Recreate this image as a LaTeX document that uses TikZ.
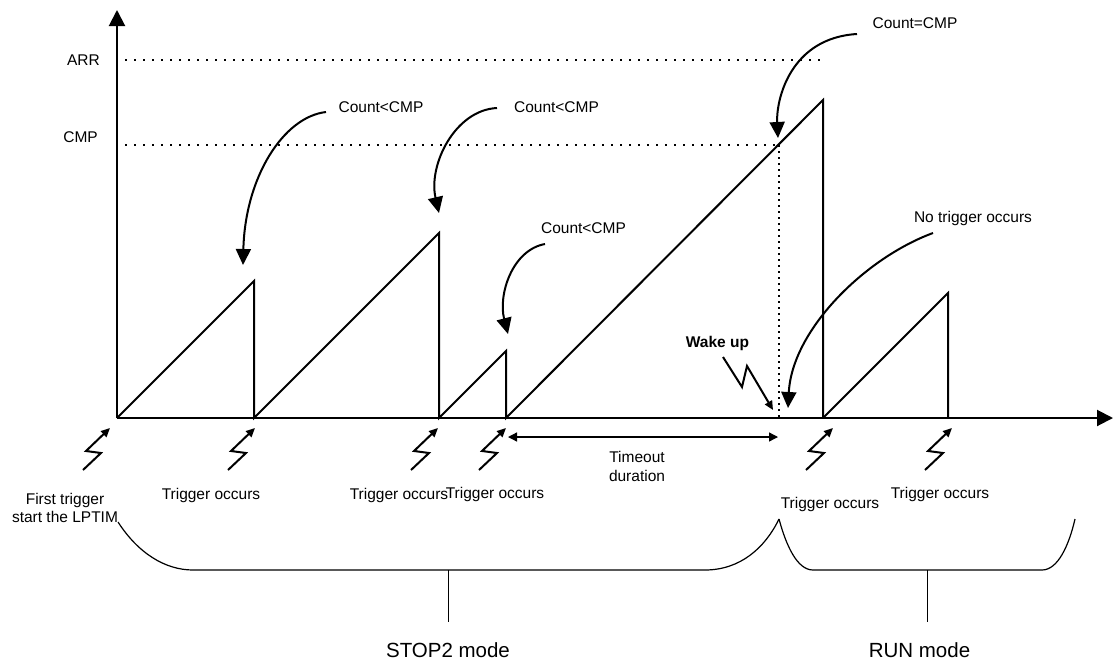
\documentclass[tikz,border=0pt]{standalone}
\usepackage{fontspec}
\setmainfont{Liberation Sans}
\usetikzlibrary{arrows.meta}
\begin{document}
\begin{tikzpicture}[x=1pt,y=-1pt,
  lbl/.style={inner sep=0pt, font=\fontsize{15.5}{18}\selectfont, anchor=base},
  bigl/.style={inner sep=0pt, font=\fontsize{20.5}{24}\selectfont, anchor=base},
  axisline/.style={line width=2pt, -{Triangle[length=16pt,width=16pt]}},
  saw/.style={line width=2pt, line join=miter},
  dotline/.style={line width=1.6pt, dash pattern=on 1.6pt off 7.4pt},
  vdotline/.style={line width=1.6pt, dash pattern=on 1.6pt off 4.4pt},
  callout/.style={line width=2pt, -{Triangle[length=16pt,width=15pt]}},
  bolt/.style={line width=2pt, -{Triangle[length=9pt,width=8pt]}},
  span/.style={line width=1.3pt, {Triangle[length=9pt,width=9pt]}-{Triangle[length=9pt,width=9pt]}},
  bracel/.style={line width=1.2pt},
  stemline/.style={line width=1pt},
  ]
\useasboundingbox (0,0) rectangle (1115,664);

% axes
\coordinate (O) at (117,418);
\coordinate (ytop) at (117,10);
\coordinate (xend) at (1113,418);
\draw[axisline] (O) -- (ytop);
\draw[axisline] (O) -- (xend);

% levels
\node[lbl, anchor=base east] (arr) at (100,65.5) {ARR};
\node[lbl, anchor=base east] (cmp) at (98,142.5) {CMP};
\coordinate (arrA) at (125,60);
\coordinate (arrB) at (821,60);
\coordinate (cmpA) at (125,145);
\coordinate (cmpB) at (779,145);
\coordinate (cmpD) at (779,418);
\draw[dotline] (arrA) -- (arrB);
\draw[dotline] (cmpA) -- (cmpB);
\draw[vdotline] (cmpB) -- (cmpD);

% sawtooth
\coordinate (p1) at (254,281);
\coordinate (b1) at (254,418);
\coordinate (p2) at (439,233);
\coordinate (b2) at (439,418);
\coordinate (p3) at (506,351);
\coordinate (b3) at (506,418);
\coordinate (p4) at (823,100);
\coordinate (b4) at (823,418);
\coordinate (p5) at (948,293);
\coordinate (b5) at (948,418);
\draw[saw] (O) -- (p1) -- (b1) -- (p2) -- (b2) -- (p3) -- (b3) -- (p4) -- (b4);
\draw[saw] (b4) -- (p5) -- (b5);

% callouts
\node[lbl] (c1) at (381,112.5) {Count<CMP};
\coordinate (c1s) at (326,112);
\coordinate (c1e) at (243,265);
\draw[callout] (c1s) .. controls (283,117) and (245,178) .. (c1e);

\node[lbl] (c2) at (556.5,112.5) {Count<CMP};
\coordinate (c2s) at (497,108);
\coordinate (c2e) at (439,213);
\draw[callout] (c2s) .. controls (455,110) and (428,165) .. (c2e);

\node[lbl] (c3) at (583.5,233.5) {Count<CMP};
\coordinate (c3s) at (545,244);
\coordinate (c3e) at (508,334);
\draw[callout] (c3s) .. controls (512,250) and (498,295) .. (c3e);

\node[lbl] (c4) at (915,28.5) {Count=CMP};
\coordinate (c4s) at (857,34);
\coordinate (c4e) at (778,138);
\draw[callout] (c4s) .. controls (790,38) and (776,100) .. (c4e);

\node[lbl] (c5) at (973,222.5) {No trigger occurs};
\coordinate (c5s) at (933,233);
\coordinate (c5e) at (788,408);
\draw[callout] (c5s) .. controls (865,258) and (792,330) .. (c5e);

% wake up
\node[lbl, font=\fontsize{15.5}{18}\selectfont\bfseries] (wk) at (717.5,347.5) {Wake up};
\coordinate (w0) at (723,357);
\coordinate (w1) at (742,387);
\coordinate (w2) at (747,366);
\coordinate (w3) at (773,410);
\draw[bolt] (w0) -- (w1) -- (w2) -- (w3);

% trigger bolts
\foreach \n/\x in {1/110,2/255,3/438,4/506,5/833,6/952}{
  \coordinate (t\n) at (\x,428);
  \draw[bolt] (t\n) ++(-27,42) -- ++(18,-17) -- ++(-15,-2) -- (t\n);
}

% trigger labels
\node[lbl, anchor=north, align=center] (l1) at (65,493.5) {First trigger\\start the LPTIM};
\node[lbl] (l2) at (211,499.5) {Trigger occurs};
\node[lbl] (l3) at (399,499) {Trigger occurs};
\node[lbl] (l4) at (495,498.5) {Trigger occurs};
\node[lbl] (l5) at (830,508.5) {Trigger occurs};
\node[lbl] (l6) at (940,498.5) {Trigger occurs};

% timeout
\coordinate (ta) at (508,437);
\coordinate (tb) at (778,437);
\draw[span] (ta) -- (tb);
\node[lbl, anchor=north, align=center, font=\fontsize{15.5}{19}\selectfont] (to) at (637,451.5) {Timeout\\duration};

% braces
\coordinate (s0) at (118,522);
\coordinate (s1) at (193,570);
\coordinate (s2) at (705,570);
\coordinate (m) at (779,519);
\coordinate (r1) at (813,570);
\coordinate (r2) at (1042,570);
\coordinate (r3) at (1075,519);
\draw[bracel] (s0) .. controls (138,553) and (165,570) .. (s1) -- (s2) .. controls (740,570) and (765,548) .. (m);
\draw[bracel] (m) .. controls (786,545) and (797,570) .. (r1) -- (r2) .. controls (1058,570) and (1069,545) .. (r3);
\coordinate (st1) at (448,570);
\coordinate (st2) at (927,570);
\node[bigl] (stop) at (448,657) {STOP2 mode};
\node[bigl] (run) at (919.5,657) {RUN mode};
\draw[stemline] (st1) -- (448,622);
\draw[stemline] (st2) -- (927,622);
\end{tikzpicture}
\end{document}
